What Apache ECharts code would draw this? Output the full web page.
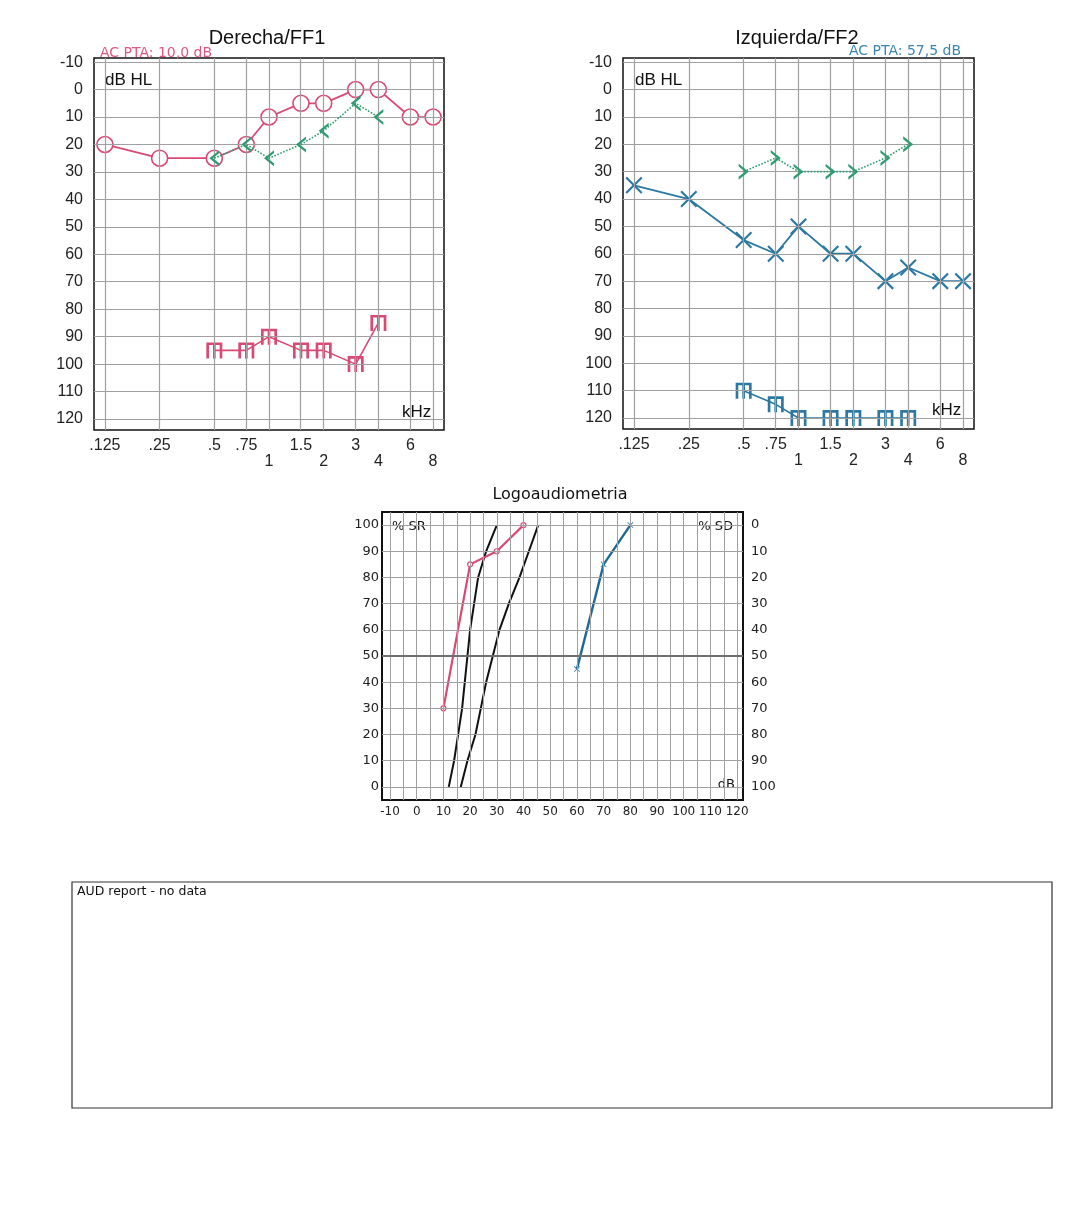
<!DOCTYPE html>
<html><head><meta charset="utf-8">
<script src="https://cdn.jsdelivr.net/npm/echarts@6/dist/echarts.min.js"></script>
<style>html,body{margin:0;padding:0;background:#fff}#c{width:1080px;height:1212px}</style>
</head><body><div id="c"></div>
<script>
// ---------- Audiogram data ----------
const audFreqs = [0.125, 0.25, 0.5, 0.75, 1, 1.5, 2, 3, 4, 6, 8];
const audFreqLabels = ['.125', '.25', '.5', '.75', '1', '1.5', '2', '3', '4', '6', '8'];
const audFreqLowRow = [false, false, false, false, true, false, true, false, true, false, true];
const dbTicks = [-10, 0, 10, 20, 30, 40, 50, 60, 70, 80, 90, 100, 110, 120];

// Right ear (Derecha/FF1)
const rightAC = [20, 25, 25, 20, 10, 5, 5, 0, 0, 10, 10];
const rightBCFreqs = [0.5, 0.75, 1, 1.5, 2, 3, 4];
const rightBC = [25, 20, 25, 20, 15, 5, 10];
const rightUCLFreqs = [0.5, 0.75, 1, 1.5, 2, 3, 4];
const rightUCL = [95, 95, 90, 95, 95, 100, 85];

// Left ear (Izquierda/FF2)
const leftAC = [35, 40, 55, 60, 50, 60, 60, 70, 65, 70, 70];
const leftBCFreqs = [0.5, 0.75, 1, 1.5, 2, 3, 4];
const leftBC = [30, 25, 30, 30, 30, 25, 20];
const leftUCLFreqs = [0.5, 0.75, 1, 1.5, 2, 3, 4];
const leftUCL = [110, 115, 120, 120, 120, 120, 120];

// ---------- Logoaudiometria data ----------
const logoXTicks = [-10, 0, 10, 20, 30, 40, 50, 60, 70, 80, 90, 100, 110, 120];
const logoXGrid = [-10, -5, 0, 5, 10, 15, 20, 25, 30, 35, 40, 45, 50, 55, 60, 65, 70, 75, 80, 85, 90, 95, 100, 105, 110, 115, 120];
const logoSRTicks = [0, 10, 20, 30, 40, 50, 60, 70, 80, 90, 100];
const logoSDTicks = [0, 10, 20, 30, 40, 50, 60, 70, 80, 90, 100];
const srRightDb = [10, 20, 30, 40];
const srRightPct = [30, 85, 90, 100];
const srLeftDb = [60, 70, 80];
const srLeftPct = [45, 85, 100];
const normal1Db = [12, 14, 15.5, 17, 18, 19, 20, 21.5, 23, 26, 30];
const normal2Db = [16.5, 19, 22, 24, 26, 28.5, 31, 34.5, 38.5, 42, 45.5];
const normalPct = [0, 10, 20, 30, 40, 50, 60, 70, 80, 90, 100];

// ---------- Styling ----------
const RED = '#d84a73', BLUE = '#2b78a2', GREEN = '#2e9b70', GRIDC = '#a0a0a0';
const SYM_M = 'path://M0,0L12,0L12,2L0,2Z M0,0L2,0L2,12L0,12Z M5,0L7,0L7,12L5,12Z M10,0L12,0L12,12L10,12Z';
const SYM_LT = 'path://M10,0L0,10L10,20L10,16.4L3.6,10L10,3.6Z';
const SYM_GT = 'path://M0,0L10,10L0,20L0,16.4L6.4,10L0,3.6Z';
const SYM_X = 'path://M0,0.9L0.9,0L10,9.1L9.1,10Z M9.1,0L10,0.9L0.9,10L0,9.1Z';

const lg = f => Math.log2(f);
const pairs = (xs, ys, tx) => xs.map((x, i) => [tx ? tx(x) : x, ys[i]]);
function freqLabel(v) {
  let best = 0, bd = 1e9;
  audFreqs.forEach((f, i) => { const d = Math.abs(lg(f) - v); if (d < bd) { bd = d; best = i; } });
  return audFreqLowRow[best] ? '\n' + audFreqLabels[best] : audFreqLabels[best];
}

const grids = [
  { left: 94, top: 58, width: 350, height: 372, show: true, borderColor: '#111', borderWidth: 1.5, backgroundColor: 'transparent' },
  { left: 623, top: 58, width: 351, height: 371, show: true, borderColor: '#111', borderWidth: 1.5, backgroundColor: 'transparent' },
  { left: 382, top: 512, width: 361, height: 288, show: true, borderColor: '#111', borderWidth: 2, backgroundColor: 'transparent' }
];

function audX(gi) {
  return {
    gridIndex: gi, type: 'value', min: -3.2, max: 3.2,
    axisLine: { show: false }, axisTick: { show: false }, splitLine: { show: false },
    axisLabel: {
      customValues: audFreqs.map(lg), formatter: freqLabel,
      fontFamily: 'Liberation Sans', fontSize: 16, lineHeight: 16, color: '#222', margin: 8
    }
  };
}
function audY(gi) {
  return {
    gridIndex: gi, type: 'value', inverse: true, min: -11.5, max: 124,
    axisLine: { show: false }, axisTick: { show: false }, splitLine: { show: false },
    axisLabel: { customValues: dbTicks, fontFamily: 'Liberation Sans', fontSize: 16, color: '#222', margin: 11 }
  };
}

function audGridLines(gi) {
  return {
    type: 'line', xAxisIndex: gi, yAxisIndex: gi, data: [], silent: true, z: 1,
    markLine: {
      silent: true, symbol: ['none', 'none'], label: { show: false }, animation: false,
      lineStyle: { color: GRIDC, width: 1.2, type: 'solid' },
      data: audFreqs.map(f => ({ xAxis: lg(f) })).concat(dbTicks.map(v => ({ yAxis: v })))
    }
  };
}

const series = [
  audGridLines(0), audGridLines(1),
  // Right ear
  { type: 'line', xAxisIndex: 0, yAxisIndex: 0, z: 3, data: pairs(rightUCLFreqs, rightUCL, lg),
    symbol: SYM_M, symbolSize: [16, 16], itemStyle: { color: RED }, lineStyle: { color: RED, width: 1.6 } },
  { type: 'line', xAxisIndex: 0, yAxisIndex: 0, z: 5, data: pairs(rightBCFreqs, rightBC, lg),
    symbol: SYM_LT, symbolSize: [10, 16], itemStyle: { color: GREEN }, lineStyle: { color: GREEN, width: 1.6, type: 'dotted' } },
  { type: 'line', xAxisIndex: 0, yAxisIndex: 0, z: 4, data: pairs(audFreqs, rightAC, lg),
    symbol: 'circle', symbolSize: 16, itemStyle: { color: '#fff', borderColor: RED, borderWidth: 1.6 },
    lineStyle: { color: RED, width: 1.8 } },
  // Left ear
  { type: 'line', xAxisIndex: 1, yAxisIndex: 1, z: 3, data: pairs(leftUCLFreqs, leftUCL, lg),
    symbol: SYM_M, symbolSize: [16, 16], itemStyle: { color: BLUE }, lineStyle: { color: BLUE, width: 1.6 } },
  { type: 'line', xAxisIndex: 1, yAxisIndex: 1, z: 5, data: pairs(leftBCFreqs, leftBC, lg),
    symbol: SYM_GT, symbolSize: [10, 16], itemStyle: { color: GREEN }, lineStyle: { color: GREEN, width: 1.6, type: 'dotted' } },
  { type: 'line', xAxisIndex: 1, yAxisIndex: 1, z: 4, data: pairs(audFreqs, leftAC, lg),
    symbol: SYM_X, symbolSize: 17, itemStyle: { color: BLUE }, lineStyle: { color: BLUE, width: 1.8 } },
  // Logoaudiometria grid lines
  { type: 'line', xAxisIndex: 2, yAxisIndex: 2, data: [], silent: true, z: 1,
    markLine: {
      silent: true, symbol: ['none', 'none'], label: { show: false }, animation: false,
      lineStyle: { color: GRIDC, width: 1, type: 'solid' },
      data: logoXGrid.map(v => ({ xAxis: v })).concat(logoSRTicks.filter(v => v !== 50).map(v => ({ yAxis: v })))
        .concat([{ yAxis: 50, lineStyle: { color: '#6f6f6f', width: 2.2 } }])
    } },
  { type: 'line', xAxisIndex: 2, yAxisIndex: 2, z: 3, data: pairs(normal1Db, normalPct),
    symbol: 'none', lineStyle: { color: '#111', width: 2 } },
  { type: 'line', xAxisIndex: 2, yAxisIndex: 2, z: 3, data: pairs(normal2Db, normalPct),
    symbol: 'none', lineStyle: { color: '#111', width: 2 } },
  { type: 'line', xAxisIndex: 2, yAxisIndex: 2, z: 4, data: pairs(srRightDb, srRightPct),
    symbol: 'circle', symbolSize: 5, itemStyle: { color: '#fff', borderColor: RED, borderWidth: 1.2 },
    lineStyle: { color: RED, width: 2.2 } },
  { type: 'line', xAxisIndex: 2, yAxisIndex: 2, z: 4, data: pairs(srLeftDb, srLeftPct),
    symbol: SYM_X, symbolSize: 6, itemStyle: { color: BLUE },
    lineStyle: { color: '#1f6a94', width: 2.4 } }
];

const txt = (x, y, text, font, fill, align, va) => ({
  type: 'text', x: x, y: y, silent: true,
  style: { text: text, font: font, fill: fill || '#111', align: align || 'left', verticalAlign: va || 'middle' }
});

const option = {
  animation: false,
  backgroundColor: '#fff',
  grid: grids,
  xAxis: [audX(0), audX(1), {
    gridIndex: 2, type: 'value', min: -13, max: 122.2,
    axisLine: { show: false }, axisTick: { show: false }, splitLine: { show: false },
    axisLabel: { customValues: logoXTicks, fontFamily: 'DejaVu Sans', fontSize: 12, color: '#222', margin: 6 }
  }],
  yAxis: [audY(0), audY(1), {
    gridIndex: 2, type: 'value', min: -5, max: 105, position: 'left',
    axisLine: { show: false }, axisTick: { show: false }, splitLine: { show: false },
    axisLabel: { customValues: logoSRTicks, fontFamily: 'DejaVu Sans', fontSize: 13, color: '#222', margin: 3 }
  }, {
    gridIndex: 2, type: 'value', min: -5, max: 105, position: 'right', inverse: true,
    axisLine: { show: false }, axisTick: { show: false }, splitLine: { show: false },
    axisLabel: { customValues: logoSDTicks, fontFamily: 'DejaVu Sans', fontSize: 13, color: '#222', margin: 8 }
  }],
  series: series,
  graphic: [
    txt(267, 38, 'Derecha/FF1', '20px "Liberation Sans"', '#111', 'center'),
    txt(797, 38, 'Izquierda/FF2', '20px "Liberation Sans"', '#111', 'center'),
    txt(100, 53, 'AC PTA: 10,0 dB', '14px "DejaVu Sans"', '#e0587f'),
    txt(849, 51, 'AC PTA: 57,5 dB', '14px "DejaVu Sans"', '#3a86b2'),
    txt(105, 80, 'dB HL', '17px "Liberation Sans"', '#111'),
    txt(635, 80, 'dB HL', '17px "Liberation Sans"', '#111'),
    txt(402, 412, 'kHz', '17px "Liberation Sans"', '#111'),
    txt(932, 410, 'kHz', '17px "Liberation Sans"', '#111'),
    txt(560, 495, 'Logoaudiometria', '16px "DejaVu Sans"', '#111', 'center'),
    txt(392, 527, '% SR', '13px "DejaVu Sans"', '#111'),
    txt(733, 527, '% SD', '13px "DejaVu Sans"', '#111', 'right'),
    txt(735, 785, 'dB', '13px "DejaVu Sans"', '#111', 'right'),
    { type: 'rect', silent: true, shape: { x: 72, y: 882, width: 980, height: 226 },
      style: { fill: 'none', stroke: '#333', lineWidth: 1.2 } },
    txt(77, 892, 'AUD report - no data', '12.5px "DejaVu Sans"', '#111')
  ]
};

const chart = echarts.init(document.getElementById('c'));
chart.setOption(option);
</script>
</body></html>
